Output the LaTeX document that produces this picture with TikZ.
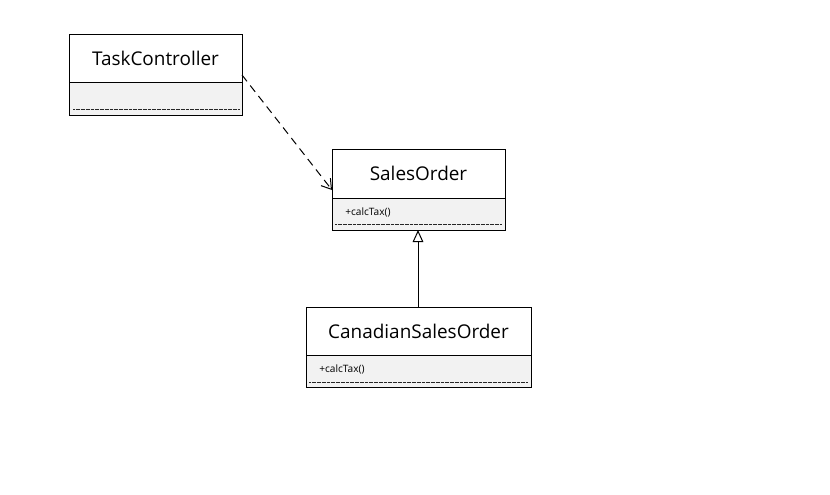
\documentclass[tikz,border=0pt]{standalone}
\usepackage{fontspec}
\setmainfont{Open Sans}
\usetikzlibrary{arrows.meta}
\definecolor{compgray}{HTML}{F2F2F2}
\begin{document}
\begin{tikzpicture}[x=0.75pt,y=-0.75pt,
  boxline/.style={draw=black,line width=0.75pt},
  compart/.style={boxline,fill=compgray},
  title/.style={font=\fontsize{14.2}{16}\selectfont,anchor=center,inner sep=0},
  member/.style={font=\fontsize{7.6}{9}\selectfont,anchor=west,inner sep=0},
  sep/.style={draw=black!85,line width=0.45pt,dash pattern=on 0.6pt off 0.35pt},
  dep/.style={draw=black,line width=0.75pt,dash pattern=on 6pt off 4pt,-{Straight Barb[length=7pt,width=9pt]}},
  inh/.style={draw=black,line width=0.75pt,-{Triangle[open,length=9pt,width=8pt]}}
]
\useasboundingbox (0,0) rectangle (830,494);
% TaskController
\draw[boxline,fill=white] (69,34) rectangle (242,82);
\draw[compart] (69,82) rectangle (242,115);
\node[title] (tc) at (155.5,58) {TaskController};
\draw[sep] (73,109) -- (239,109);
\coordinate (tcr) at (242,75);
% SalesOrder
\draw[boxline,fill=white] (332,149) rectangle (505,198);
\draw[compart] (332,198) rectangle (505,230);
\node[title] (so) at (418.5,173.5) {SalesOrder};
\node[member] (som) at (345,212) {+calcTax()};
\draw[sep] (335,224) -- (501,224);
\coordinate (sol) at (332,190);
\coordinate (sob) at (418,230);
% CanadianSalesOrder
\draw[boxline,fill=white] (306,307) rectangle (531,355);
\draw[compart] (306,355) rectangle (531,387);
\node[title] (cso) at (418.5,331) {CanadianSalesOrder};
\node[member] (csom) at (319,369) {+calcTax()};
\draw[sep] (309,382) -- (527,382);
\coordinate (csot) at (418,307);
% connectors
\draw[dep] (tcr) -- (sol);
\draw[inh] (csot) -- (sob);
\end{tikzpicture}
\end{document}
